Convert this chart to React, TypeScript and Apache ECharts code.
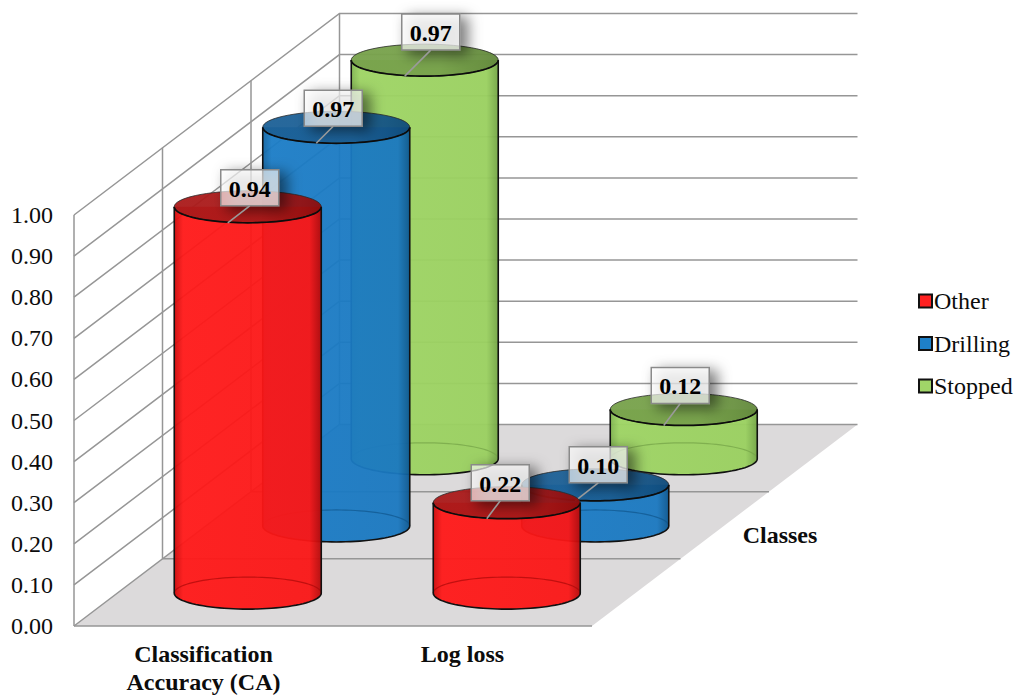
import React, { useEffect, useRef } from "react";
import * as echarts from "echarts";

const categories = ["Classification\nAccuracy (CA)", "Log loss"];
const otherValues = [0.94, 0.22];
const drillingValues = [0.97, 0.1];
const stoppedValues = [0.97, 0.12];
const tickValues = [0, 0.1, 0.2, 0.3, 0.4, 0.5, 0.6, 0.7, 0.8, 0.9, 1];
const className = "Classes";

const SERIF = '"Liberation Serif", "Times New Roman", serif';
const TEXT = "#0c0c0c";
const WALL = "#969696";

// Oblique vector from the front plane to the back wall of the box.
const DEPTH_X = 265.5;
const DEPTH_Y = -201.5;
const ROWS = 3;
const RX = 73.5;
const RY = 16;
const BASE_DROP = 0.7;

// Callout box offset from the centre of a cylinder's top, [x, y of box top].
const otherCallouts = [[2, -37], [-6.5, -38]];
const drillingCallouts = [[-3, -37], [3, -38]];
const stoppedCallouts = [[6, -46], [-3.5, -42]];

type Shade = {
  swatch: string;
  edgeL: string;
  mid: string;
  midR: string;
  edgeR: string;
  capL: string;
  capR: string;
  rim: string;
};

const redShade: Shade = {
  swatch: "#ff2020",
  edgeL: "rgba(205,10,10,0.95)",
  mid: "rgba(255,24,24,0.95)",
  midR: "rgba(250,22,22,0.95)",
  edgeR: "rgba(180,10,10,0.96)",
  capL: "rgba(170,26,26,0.95)",
  capR: "rgba(140,12,12,0.95)",
  rim: "rgba(170,8,8,0.7)",
};
const blueShade: Shade = {
  swatch: "#1e80c8",
  edgeL: "rgba(16,100,162,0.95)",
  mid: "rgba(26,124,198,0.95)",
  midR: "rgba(26,120,192,0.95)",
  edgeR: "rgba(14,88,144,0.96)",
  capL: "rgba(28,96,150,0.95)",
  capR: "rgba(14,74,122,0.95)",
  rim: "rgba(16,86,140,0.7)",
};
const greenShade: Shade = {
  swatch: "#a0d568",
  edgeL: "rgba(128,180,80,0.96)",
  mid: "rgba(158,212,100,0.96)",
  midR: "rgba(154,208,96,0.96)",
  edgeR: "rgba(116,166,70,0.96)",
  capL: "rgba(120,162,76,0.96)",
  capR: "rgba(98,136,60,0.96)",
  rim: "rgba(118,164,72,0.75)",
};

// Sampled half of an ellipse; lower = true walks the front (lower) half from left to right.
function arcPoints(cx: number, cy: number, lower: boolean) {
  const pts: number[][] = [];
  for (let i = 0; i <= 48; i++) {
    const a = Math.PI - (Math.PI * i) / 48;
    pts.push([cx + RX * Math.cos(a), cy + (lower ? RY : -RY) * Math.sin(a)]);
  }
  return pts;
}

function horizontalFill(stops: [number, string][]) {
  return {
    type: "linear",
    x: 0,
    y: 0,
    x2: 1,
    y2: 0,
    colorStops: stops.map(([offset, color]) => ({ offset, color })),
  };
}

function cylinderSeries(
  name: string,
  values: number[],
  row: number,
  shade: Shade,
  callouts: number[][],
) {
  return {
    type: "custom",
    name,
    z: 10 - row,
    silent: true,
    itemStyle: { color: shade.swatch },
    data: values.map((v, i) => [i, v]),
    encode: { x: 0, y: 1 },
    renderItem: (_params: any, api: any) => {
      const cat = api.value(0);
      const val = api.value(1);
      const base = api.coord([cat, 0]);
      const head = api.coord([cat, val]);
      const d = (row + 0.5) / ROWS;
      const cx = base[0] + DEPTH_X * d;
      const by = base[1] + DEPTH_Y * d + BASE_DROP;
      const ty = head[1] + DEPTH_Y * d + BASE_DROP;
      const lowerBase = arcPoints(cx, by, true);
      const body = [[cx - RX, ty], ...lowerBase, [cx + RX, ty]];
      const [shiftX, boxTop] = callouts[cat];
      const boxW = 58;
      const boxH = 36;
      const boxX = cx + shiftX - boxW / 2;
      const boxY = ty + boxTop;
      return {
        type: "group",
        children: [
          {
            type: "polygon",
            shape: { points: body },
            style: {
              fill: horizontalFill([
                [0, shade.edgeL],
                [0.06, shade.mid],
                [0.92, shade.midR],
                [1, shade.edgeR],
              ]),
            },
          },
          {
            type: "polyline",
            shape: { points: arcPoints(cx, by, false) },
            style: { fill: "none", stroke: shade.rim, lineWidth: 1.2 },
          },
          {
            type: "polyline",
            shape: { points: body },
            style: { fill: "none", stroke: "#111111", lineWidth: 1.6 },
          },
          {
            type: "ellipse",
            shape: { cx, cy: ty, rx: RX, ry: RY },
            style: {
              fill: horizontalFill([
                [0, shade.capL],
                [0.6, shade.capL],
                [1, shade.capR],
              ]),
              stroke: "#2a2a2a",
              lineWidth: 0.8,
            },
          },
          {
            type: "polyline",
            shape: { points: arcPoints(cx, ty, true) },
            style: { fill: "none", stroke: "#0c0c0c", lineWidth: 1.7 },
          },
          {
            type: "rect",
            shape: { x: boxX, y: boxY, width: boxW, height: boxH },
            style: {
              fill: "rgba(255,255,255,0.62)",
              stroke: "#8a8a8a",
              lineWidth: 1.5,
              shadowColor: "rgba(0,0,0,0.8)",
              shadowBlur: 14,
              shadowOffsetX: 7,
              shadowOffsetY: 4,
            },
          },
          {
            type: "line",
            shape: {
              x1: boxX + boxW / 2,
              y1: boxY + boxH,
              x2: cx - 20,
              y2: ty + RY,
            },
            style: { stroke: "#9a9a9a", lineWidth: 1.6 },
          },
          {
            type: "text",
            x: boxX + boxW / 2,
            y: boxY + boxH / 2 + 1,
            style: {
              text: val.toFixed(2),
              fontFamily: SERIF,
              fontSize: 24,
              fontWeight: "bold",
              fill: "#000000",
              textAlign: "center",
              verticalAlign: "middle",
            },
          },
        ],
      };
    },
  };
}

// Floor, side wall and back wall of the box, one gridline per axis tick.
const frameSeries = {
  type: "custom",
  name: "frame",
  z: 1,
  silent: true,
  data: tickValues.map((v) => [0, v]),
  encode: { x: 0, y: 1 },
  renderItem: (params: any, api: any) => {
    const rect = params.coordSys;
    const left = rect.x;
    const right = rect.x + rect.width;
    const y = api.coord([0, api.value(1)])[1];
    const floorY = rect.y + rect.height;
    const stroke = { stroke: WALL, lineWidth: 1.5 };
    const children: any[] = [];
    if (params.dataIndex === 0) {
      children.push({
        type: "polygon",
        z2: 0,
        shape: {
          points: [
            [left, floorY],
            [right, floorY],
            [right + DEPTH_X, floorY + DEPTH_Y],
            [left + DEPTH_X, floorY + DEPTH_Y],
          ],
        },
        style: { fill: "#dcdadb" },
      });
      for (let r = 0; r <= ROWS; r++) {
        const dx = (DEPTH_X * r) / ROWS;
        const dy = (DEPTH_Y * r) / ROWS;
        children.push({
          type: "line",
          z2: 1,
          shape: { x1: left + dx, y1: floorY + dy, x2: left + dx, y2: rect.y + dy },
          style: stroke,
        });
        if (r > 0 && r < ROWS) {
          children.push({
            type: "line",
            z2: 1,
            shape: { x1: left + dx, y1: floorY + dy, x2: right + dx, y2: floorY + dy },
            style: stroke,
          });
        }
      }
      children.push({
        type: "line",
        z2: 1,
        shape: { x1: left, y1: floorY, x2: right, y2: floorY },
        style: stroke,
      });
    }
    children.push({
      type: "polyline",
      z2: 1,
      shape: {
        points: [
          [left, y],
          [left + DEPTH_X, y + DEPTH_Y],
          [right + DEPTH_X, y + DEPTH_Y],
        ],
      },
      style: { fill: "none", ...stroke },
    });
    return { type: "group", children };
  },
};

function legendEntry(name: string, shade: Shade) {
  return {
    name,
    icon: "rect",
    itemStyle: { color: shade.swatch, borderColor: "#111111", borderWidth: 2 },
  };
}

export default function App() {
  const ref = useRef<HTMLDivElement>(null);

  useEffect(() => {
    const chart = echarts.init(ref.current!, null, { renderer: "svg" });
    chart.setOption({
      animation: false,
      backgroundColor: "#ffffff",
      grid: { left: 74, top: 215, width: 518, height: 411.5, containLabel: false },
      legend: {
        left: 918,
        top: 289,
        padding: 0,
        orient: "vertical",
        itemWidth: 13,
        itemHeight: 13,
        itemGap: 18.5,
        selectedMode: false,
        textStyle: {
          fontFamily: SERIF,
          fontSize: 24,
          color: TEXT,
          padding: [0, 0, 0, -3],
        },
        data: [
          legendEntry("Other", redShade),
          legendEntry("Drilling", blueShade),
          legendEntry("Stopped", greenShade),
        ],
      },
      xAxis: {
        type: "category",
        data: categories,
        axisLine: { show: false },
        axisTick: { show: false },
        axisLabel: {
          interval: 0,
          margin: 14,
          fontFamily: SERIF,
          fontSize: 24,
          fontWeight: "bold",
          lineHeight: 28,
          color: TEXT,
        },
      },
      yAxis: {
        type: "value",
        min: 0,
        max: 1,
        interval: 0.1,
        axisLine: { show: false },
        axisTick: { show: false },
        splitLine: { show: false },
        axisLabel: {
          margin: 21,
          fontFamily: SERIF,
          fontSize: 24,
          color: TEXT,
          formatter: (v: number) => v.toFixed(2),
        },
      },
      graphic: [
        {
          type: "text",
          x: 780,
          y: 535,
          style: {
            text: className,
            fontFamily: SERIF,
            fontSize: 24,
            fontWeight: "bold",
            fill: TEXT,
            textAlign: "center",
            verticalAlign: "middle",
          },
        },
      ],
      series: [
        frameSeries,
        cylinderSeries("Stopped", stoppedValues, 2, greenShade, stoppedCallouts),
        cylinderSeries("Drilling", drillingValues, 1, blueShade, drillingCallouts),
        cylinderSeries("Other", otherValues, 0, redShade, otherCallouts),
      ],
    });
    return () => chart.dispose();
  }, []);

  return (
    <div
      ref={ref}
      style={{ position: "absolute", left: 0, top: 0, width: 1015, height: 696 }}
    />
  );
}
